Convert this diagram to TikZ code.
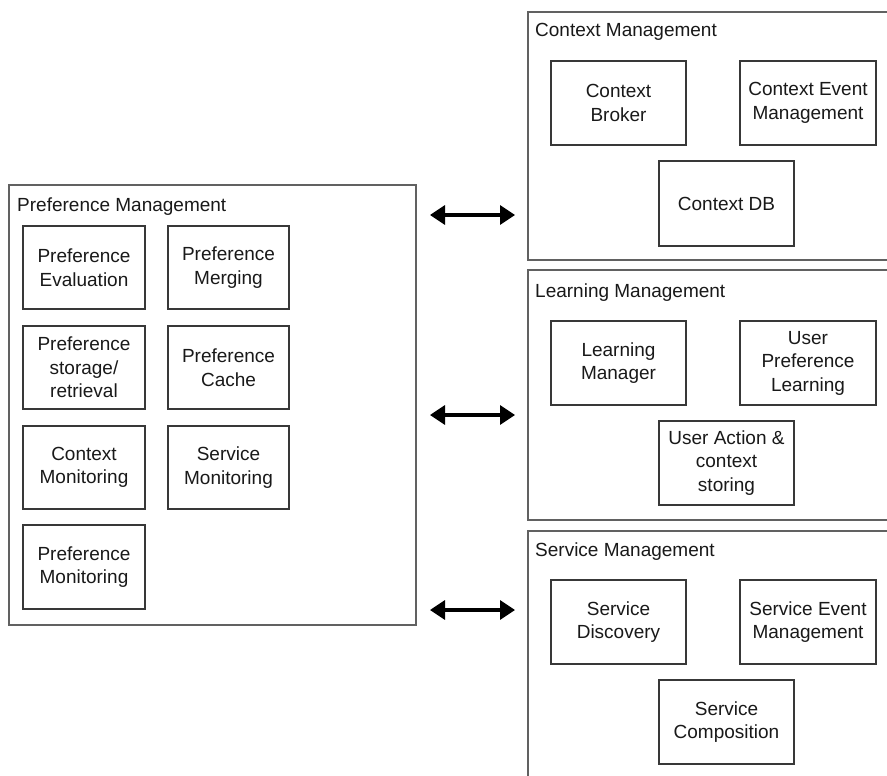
\documentclass[tikz,border=0pt]{standalone}
\usepackage{fontspec}
\setmainfont{Liberation Sans}
\usetikzlibrary{arrows.meta}
\begin{document}
\begin{tikzpicture}[x=1pt,y=-1pt,
  group/.style={draw=black!62,line width=1.6pt,fill=none},
  grouplabel/.style={anchor=base west,inner sep=0pt,text=black!90,font=\fontsize{19}{23.5}\selectfont},
  comp/.style={draw=black!78,line width=1.6pt,rectangle,align=center,inner sep=2pt,
    text=black!90,font=\fontsize{19}{23.5}\selectfont},
  link/.style={line width=3.4pt,{Triangle[length=15pt,width=19pt]}-{Triangle[length=15pt,width=19pt]}}]
\useasboundingbox (0,0) rectangle (887,776);
\fill[white] (0,0) rectangle (887,776);
\clip (0,0) rectangle (887,776);

% Preference Management
\draw[group] (9,185) rectangle (416,625);
\node[grouplabel] (pmlabel) at (17,211) {Preference Management};
\node[comp,minimum width=122pt,minimum height=83pt] (peval) at (84,267.5) {Preference\\Evaluation};
\node[comp,minimum width=121pt,minimum height=83pt] (pmerge) at (228.5,267.5) {Preference\\Merging};
\node[comp,minimum width=122pt,minimum height=83pt] (pstore) at (84,367.5) {Preference\\storage/\\retrieval};
\node[comp,minimum width=121pt,minimum height=83pt] (pcache) at (228.5,367.5) {Preference\\Cache};
\node[comp,minimum width=122pt,minimum height=83pt] (cmon) at (84,467.5) {Context\\Monitoring};
\node[comp,minimum width=121pt,minimum height=83pt] (smon) at (228.5,467.5) {Service\\Monitoring};
\node[comp,minimum width=122pt,minimum height=84pt] (pmon) at (84,567) {Preference\\Monitoring};

% Context Management
\draw[group] (528,12) rectangle (900,260);
\node[grouplabel] (cmlabel) at (535,37) {Context Management};
\node[comp,minimum width=135pt,minimum height=84pt] (cbroker) at (618.5,103) {Context\\Broker};
\node[comp,minimum width=136pt,minimum height=84pt] (cevent) at (808,103) {Context Event\\Management};
\node[comp,minimum width=135pt,minimum height=85pt] (cdb) at (726.5,203.5) {Context DB};

% Learning Management
\draw[group] (528,270) rectangle (900,520);
\node[grouplabel] (lmlabel) at (535,297) {Learning Management};
\node[comp,minimum width=135pt,minimum height=84pt] (lmgr) at (618.5,363) {Learning\\Manager};
\node[comp,minimum width=136pt,minimum height=84pt] (uplearn) at (808,363) {User\\Preference\\Learning};
\node[comp,minimum width=135pt,minimum height=84pt] (uastore) at (726.5,463) {User Action \&\\context\\storing};

% Service Management
\draw[group] (528,531) rectangle (900,800);
\node[grouplabel] (smlabel) at (535,556) {Service Management};
\node[comp,minimum width=135pt,minimum height=84pt] (sdisc) at (618.5,622) {Service\\Discovery};
\node[comp,minimum width=136pt,minimum height=84pt] (sevent) at (808,622) {Service Event\\Management};
\node[comp,minimum width=135pt,minimum height=84pt] (scomp) at (726.5,722) {Service\\Composition};

% Links between the preference block and the other managers
\coordinate (a1l) at (430,215); \coordinate (a1r) at (515,215);
\coordinate (a2l) at (430,415); \coordinate (a2r) at (515,415);
\coordinate (a3l) at (430,610); \coordinate (a3r) at (515,610);
\draw[link] (a1l) -- (a1r);
\draw[link] (a2l) -- (a2r);
\draw[link] (a3l) -- (a3r);
\end{tikzpicture}
\end{document}
